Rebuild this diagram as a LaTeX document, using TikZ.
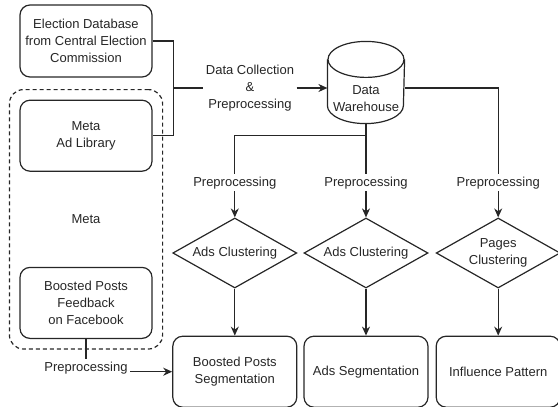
\documentclass[tikz,border=0pt]{standalone}
\usepackage{fontspec}
\setmainfont{Liberation Sans}
\usetikzlibrary{
    positioning,
    arrows.meta,
    shapes.geometric,
    fit,
    calc
}

\begin{document}
\begin{tikzpicture}
[
    font=\fontsize{13pt}{17pt}\selectfont,
    color=black!85,
    line width=1.2pt,
    block/.style={
        rectangle,
        rounded corners=10pt,
        draw,
        align=center,
        inner sep=2pt,
        minimum width=132pt,
        minimum height=71pt
    },
    result/.style={
        block,
        minimum width=124pt
    },
    decision/.style={
        diamond,
        draw,
        align=center,
        aspect=1.77,
        inner sep=0pt,
        minimum width=124pt,
        minimum height=70pt
    },
    store/.style={
        rectangle,
        inner sep=0pt,
        minimum width=76pt,
        minimum height=81pt
    },
    tag/.style={
        fill=white,
        align=center,
        inner sep=2pt
    },
    group/.style={
        draw,
        dash pattern=on 4pt off 3pt,
        rounded corners=14pt,
        inner sep=10pt
    },
    arrow/.style={
        -{Stealth[length=9pt,width=8pt]}
    }
]

\useasboundingbox (0,0) rectangle (558pt,-407pt);


% =====================
% SOURCES
% =====================

\node[
block,
minimum height=72pt
]
(elect)
at (86pt,-41pt)
{
Election Database\\
from Central Election\\
Commission
};


\node[
block,
below=22pt of elect
]
(metaad)
{
Meta\\
Ad Library
};


\node[
block,
below=95pt of metaad
]
(boostfb)
{
Boosted Posts\\
Feedback\\
on Facebook
};


\node
(metalbl)
at ($(metaad)!0.5!(boostfb)$)
{Meta};


\node[
group,
fit=(metaad)(boostfb)
]
(metagrp)
{};


\node[
tag,
below=20pt of boostfb
]
(pp4)
{Preprocessing};



% =====================
% WAREHOUSE
% =====================

\node[
tag
]
(dcp)
at (250pt,-88pt)
{
Data Collection\\
\&\\
Preprocessing
};


\node[
store,
label={[align=center,yshift=-16pt]center:Data\\Warehouse}
]
(dw)
at (366pt,-82.5pt)
{};

% cylinder outline
\draw
([yshift=-18pt]dw.north)
ellipse [x radius=38pt, y radius=18pt];

\draw
([yshift=-18pt]dw.north west)
--
([yshift=18pt]dw.south west)
arc [start angle=180, end angle=360, x radius=38pt, y radius=18pt]
--
([yshift=-18pt]dw.north east);



% =====================
% CLUSTERING
% =====================

\node[
decision
]
(d2)
at (366pt,-253pt)
{Ads Clustering};


\node[
decision,
left=6pt of d2
]
(d1)
{Ads Clustering};


\node[
decision,
right=7pt of d2
]
(d3)
{
Pages\\
Clustering
};


\node[tag, above=26pt of d1] (pp1) {Preprocessing};
\node[tag, above=26pt of d2] (pp2) {Preprocessing};
\node[tag, above=26pt of d3] (pp3) {Preprocessing};



% =====================
% RESULTS
% =====================

\node[
result,
below=47pt of d1
]
(b1)
{
Boosted Posts\\
Segmentation
};


\node[
result,
below=47pt of d2
]
(b2)
{Ads Segmentation};


\node[
result,
below=47pt of d3
]
(b3)
{Influence Pattern};



% =====================
% CONNECTIONS
% =====================

\coordinate (merge) at ([xshift=21pt]elect.east |- dcp.west);
\coordinate[below=12pt of dw.south] (split);


\draw
(elect.east)
-|
(merge)
|-
(metaad.east);


\draw
(merge)
--
(dcp.west);


\draw[arrow]
(dcp.east)
--
(dcp.east -| dw.west);


\draw
(dw.south)
--
(pp2);


\draw
(split)
-|
(pp1);


\draw
(dw.east |- dcp.east)
-|
(pp3);


\draw[arrow] (pp1) -- (d1);
\draw[arrow] (pp2) -- (d2);
\draw[arrow] (pp3) -- (d3);


\draw[arrow] (d1.south) -- (d1.south |- b1.north);
\draw[arrow] (d2.south) -- (d2.south |- b2.north);
\draw[arrow] (d3.south) -- (d3.south |- b3.north);


\draw
(boostfb)
--
(pp4);


\draw[arrow]
(pp4.east |- b1.west)
--
(b1.west);


\end{tikzpicture}
\end{document}
